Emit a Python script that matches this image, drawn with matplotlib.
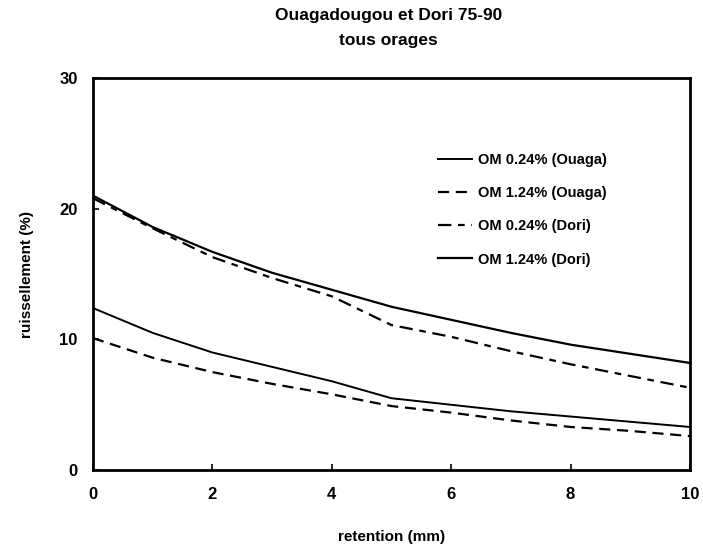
import numpy as np
import matplotlib
matplotlib.use('Agg')
import matplotlib.pyplot as plt

plt.rcParams['font.family'] = ['Liberation Sans', 'DejaVu Sans']
plt.rcParams['font.weight'] = 'bold'

# retention (mm)
retention = [0, 1, 2, 3, 4, 5, 6, 7, 8, 9, 10]

# ruissellement (%)
ouaga_024 = [12.4, 10.5, 9.0, 7.9, 6.8, 5.5, 5.0, 4.5, 4.1, 3.7, 3.3]
ouaga_124 = [10.1, 8.6, 7.5, 6.6, 5.8, 4.9, 4.4, 3.8, 3.3, 3.0, 2.6]
dori_024 = [20.8, 18.5, 16.3, 14.7, 13.3, 11.1, 10.2, 9.1, 8.1, 7.2, 6.3]
dori_124 = [21.0, 18.6, 16.7, 15.1, 13.8, 12.5, 11.5, 10.5, 9.6, 8.9, 8.2]

labels = ["OM 0.24% (Ouaga)", "OM 1.24% (Ouaga)", "OM 0.24% (Dori)", "OM 1.24% (Dori)"]

fig = plt.figure(figsize=(7.03, 5.46), dpi=100)
ax = fig.add_axes([0.1323, 0.139, 0.8492, 0.718])

ax.plot(retention, ouaga_024, color='black', lw=1.4, ls='-', label=labels[0])
ax.plot(retention, ouaga_124, color='black', lw=1.6, ls=(0, (5, 3)), label=labels[1])
ax.plot(retention, dori_024, color='black', lw=1.6, ls=(0, (6, 3, 3, 3)), label=labels[2])
ax.plot(retention, dori_124, color='black', lw=1.6, ls='-', label=labels[3])

ax.set_xlim(0, 10)
ax.set_ylim(0, 30)
ax.set_xticks([0, 2, 4, 6, 8, 10])
ax.set_yticks([0, 10, 20, 30])
ax.tick_params(direction='in', length=4, width=1.2, labelsize=12)
ax.tick_params(axis='x', pad=12)
ax.tick_params(axis='y', pad=11)
for lab in ax.get_xticklabels() + ax.get_yticklabels():
    lab.set_fontweight('bold')
for sp in ax.spines.values():
    sp.set_linewidth(2)

ax.set_xlabel("retention (mm)", fontsize=11, fontweight='bold', labelpad=20)
ax.set_ylabel("ruissellement (%)", fontsize=11, fontweight='bold', labelpad=18)

fig.text(0.553, 0.972, "Ouagadougou et Dori 75-90", ha='center', va='center',
         fontsize=12.5, fontweight='bold')
fig.text(0.553, 0.925, "tous orages", ha='center', va='center',
         fontsize=12.5, fontweight='bold')

leg = ax.legend(loc='upper left', bbox_to_anchor=(0.556, 0.843), frameon=False,
                handlelength=2.3, handletextpad=0.45, labelspacing=1.32,
                prop={'size': 10.5, 'weight': 'bold'})

fig.savefig("out.png", dpi=100)
